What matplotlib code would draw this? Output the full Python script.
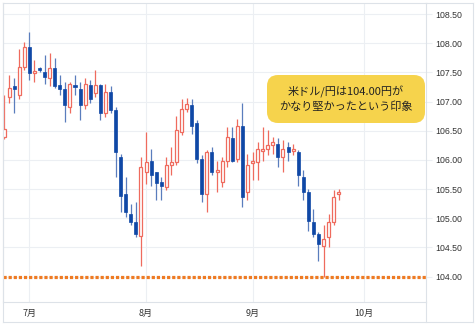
import numpy as np
import pandas as pd
import matplotlib
matplotlib.use("Agg")
import matplotlib.pyplot as plt
from matplotlib.patches import FancyBboxPatch
from matplotlib.lines import Line2D

plt.rcParams['font.family'] = ['Noto Sans CJK JP', 'DejaVu Sans']

# USD/JPY daily candles, 2020-06-24 .. 2020-09-24
dates = pd.bdate_range('2020-06-24', '2020-09-24')
opens = [106.40, 107.08, 107.26, 107.11, 107.60, 107.94, 107.49, 107.58, 107.51, 107.40,
         107.57, 107.28, 107.22, 106.91, 107.29, 107.22, 106.94, 107.28, 107.15, 107.28,
         106.80, 107.17, 106.86, 106.05, 105.42, 105.08, 104.93, 104.70, 105.80, 105.99,
         105.79, 105.62, 105.53, 105.91, 105.96, 106.48, 106.88, 106.94, 106.63, 106.02,
         105.42, 106.14, 105.79, 105.62, 105.99, 106.38, 106.02, 106.59, 105.45, 105.94,
         105.96, 106.16, 106.19, 106.26, 106.28, 106.05, 106.22, 106.15, 106.14, 105.71,
         105.45, 104.93, 104.73, 104.53, 104.68, 104.93, 105.41]
highs = [107.12, 107.45, 107.40, 107.91, 108.03, 108.20, 107.71, 107.60, 107.80, 107.83,
         107.74, 107.45, 107.34, 107.34, 107.45, 107.34, 107.40, 107.37, 107.54, 107.31,
         107.30, 107.26, 106.91, 106.11, 105.71, 105.25, 105.28, 106.05, 106.48, 106.19,
         105.80, 105.71, 106.05, 106.22, 106.75, 107.05, 107.07, 107.05, 106.68, 106.08,
         106.17, 106.22, 105.99, 106.05, 106.57, 106.57, 106.71, 106.97, 106.11, 106.14,
         106.31, 106.57, 106.51, 106.39, 106.37, 106.34, 106.31, 106.28, 106.17, 105.82,
         105.51, 105.16, 104.76, 104.88, 105.08, 105.48, 105.51]
lows = [106.36, 106.97, 106.80, 107.05, 107.54, 107.37, 107.34, 107.51, 107.31, 107.26,
        107.23, 107.11, 106.65, 106.80, 107.11, 106.68, 106.88, 106.97, 107.08, 106.69,
        106.73, 106.80, 105.71, 105.11, 105.02, 104.88, 104.68, 104.19, 105.58, 105.56,
        105.31, 105.31, 105.48, 105.74, 105.91, 106.42, 106.82, 106.45, 105.94, 105.28,
        105.11, 105.74, 105.45, 105.53, 105.88, 105.96, 105.96, 105.19, 105.31, 105.65,
        105.65, 105.99, 106.08, 106.11, 105.88, 105.79, 105.99, 106.08, 105.56, 105.31,
        104.79, 104.68, 104.27, 104.00, 104.50, 104.88, 105.31]
closes = [106.53, 107.23, 107.22, 107.60, 107.94, 107.49, 107.52, 107.54, 107.43, 107.57,
          107.26, 107.22, 106.94, 107.31, 107.25, 106.94, 107.31, 107.05, 107.28, 106.80,
          107.17, 106.86, 106.14, 105.39, 105.11, 104.93, 104.73, 105.88, 105.96, 105.74,
          105.60, 105.55, 105.92, 105.96, 106.51, 106.88, 106.96, 106.59, 106.02, 105.42,
          106.14, 105.79, 105.83, 105.99, 106.39, 105.99, 106.59, 105.36, 105.91, 105.98,
          106.19, 106.19, 106.25, 106.30, 106.05, 106.19, 106.14, 106.18, 105.74, 105.45,
          104.96, 104.73, 104.56, 104.64, 104.93, 105.36, 105.45]

support = 104.00
yticks = [104.0, 104.5, 105.0, 105.5, 106.0, 106.5, 107.0, 107.5, 108.0, 108.5]
note = "米ドル/円は104.00円が\nかなり堅かったという印象"

up_col = '#ef6b5e'
dn_col = '#0f48a6'
dn_wick = '#5a7dbd'
grid_col = '#eceff3'
frame_col = '#dde2e8'

W, H = 476, 327
fig = plt.figure(figsize=(W / 100, H / 100), dpi=100)
# plot area in pixels: x 3..426, y 3..301.7
ax = fig.add_axes([3 / W, 1 - 301.7 / H, 423 / W, 298.7 / H])

x = np.arange(len(dates))
o = np.array(opens); c = np.array(closes)
h = np.array(highs); l = np.array(lows)
up = c >= o

# wicks
ax.vlines(x[up], l[up], h[up], color=up_col, lw=0.9, zorder=2)
ax.vlines(x[~up], l[~up], h[~up], color=dn_wick, lw=0.9, zorder=2)
# bodies
bw = 0.6
lo = np.minimum(o, c); hi = np.maximum(o, c)
ht = np.maximum(hi - lo, 0.02)
ax.bar(x[up], ht[up], bottom=lo[up], width=bw, facecolor='white',
       edgecolor=up_col, linewidth=0.9, zorder=3)
ax.bar(x[~up], ht[~up], bottom=lo[~up], width=bw, facecolor=dn_col,
       edgecolor=dn_col, linewidth=0.5, zorder=3)

# support line
ax.axhline(support, color='#ee7a22', lw=2.3, linestyle=(0, (1, 0.6)),
           dash_capstyle='butt', zorder=4)

# month ticks on first trading day of each month
cal = pd.bdate_range('2020-06-24', '2020-10-20')
firsts = [i for i in range(1, len(cal)) if cal[i].month != cal[i - 1].month]
ax.set_xticks(firsts)
ax.set_xticklabels([f"{cal[i].month}月" for i in firsts])
ax.set_xlim(-0.2, 83.2)
ax.set_ylim(103.57, 108.69)
ax.set_yticks(yticks)
ax.set_yticklabels([f"{v:.2f}" for v in yticks])
ax.yaxis.tick_right()
ax.tick_params(axis='y', length=4, color=grid_col, pad=3, labelsize=6.3, labelcolor='#333333')
ax.tick_params(axis='x', length=0, pad=5, labelsize=6.5, labelcolor='#333333')
for lab in ax.get_yticklabels():
    lab.set_family(['Liberation Sans', 'DejaVu Sans'])

ax.grid(True, color=grid_col, lw=0.8, zorder=0)
ax.set_axisbelow(True)
for s in ax.spines.values():
    s.set_color(frame_col)
    s.set_linewidth(0.8)

# outer frame around axis labels
fig.add_artist(Line2D([3 / W, 473 / W], [1 - 322 / H, 1 - 322 / H], color=frame_col, lw=0.8))
fig.add_artist(Line2D([473 / W, 473 / W], [1 - 322 / H, 1 - 3 / H], color=frame_col, lw=0.8))
fig.add_artist(Line2D([3 / W, 3 / W], [1 - 322 / H, 1 - 3 / H], color=frame_col, lw=0.8))
fig.add_artist(Line2D([426 / W, 426 / W], [1 - 322 / H, 1 - 301.7 / H], color=frame_col, lw=0.8))
fig.add_artist(Line2D([426 / W, 473 / W], [1 - 3 / H, 1 - 3 / H], color=frame_col, lw=0.8))

# annotation box
bx0, bx1 = (267 - 3) / 423, (425 - 3) / 423
by0, by1 = (301.7 - 123) / 298.7, (301.7 - 75) / 298.7
box = FancyBboxPatch((bx0, by0), bx1 - bx0, by1 - by0,
                     boxstyle='round,pad=0,rounding_size=0.026',
                     mutation_aspect=423 / 298.7, transform=ax.transAxes,
                     facecolor='#f6d34c', edgecolor='none', zorder=5)
ax.add_patch(box)
ax.text((bx0 + bx1) / 2, (by0 + by1) / 2, note, transform=ax.transAxes,
        ha='center', va='center', fontsize=8, linespacing=1.45,
        color='#222222', zorder=6)

fig.savefig('out.png', dpi=100)
